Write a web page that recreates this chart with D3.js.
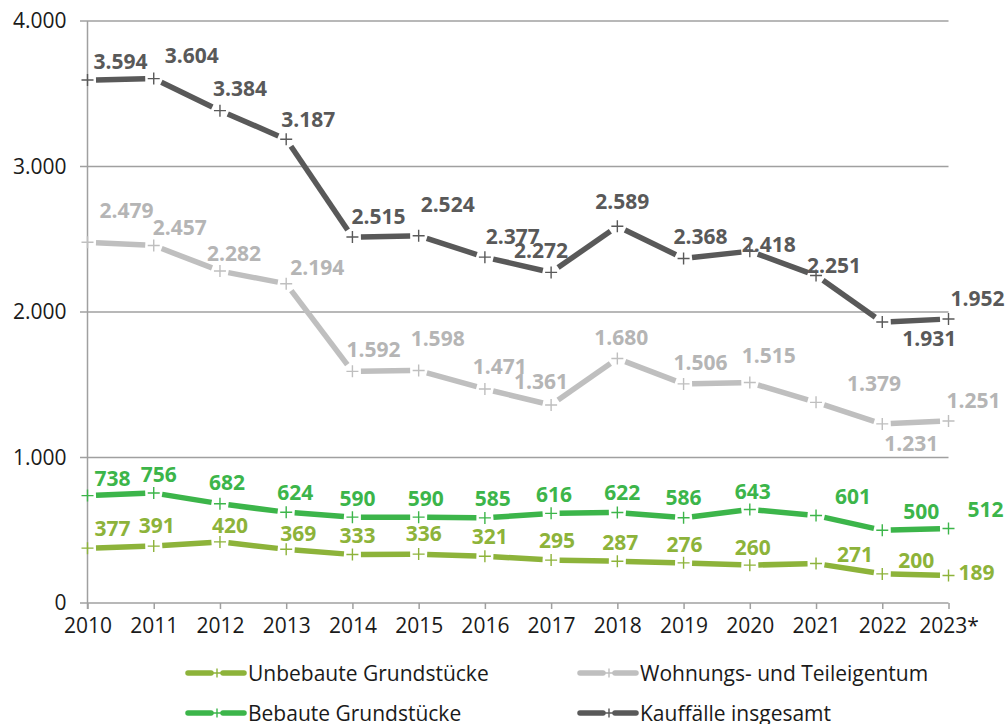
<!DOCTYPE html>
<html><head><meta charset="utf-8">
<script src="https://cdn.jsdelivr.net/npm/d3@7"></script>
<style>body{margin:0;background:#fff;} svg{display:block;}</style>
</head><body>
<svg id="c" width="1007" height="724"></svg>
<script>
const years = ["2010","2011","2012","2013","2014","2015","2016","2017","2018","2019","2020","2021","2022","2023*"];
const yTicks = [0, 1000, 2000, 3000, 4000];
const seriesNames = ["Unbebaute Grundstücke","Wohnungs- und Teileigentum","Bebaute Grundstücke","Kauffälle insgesamt"];
const unbebaute = [377,391,420,369,333,336,321,295,287,276,260,271,200,189];
const wohnungs  = [2479,2457,2282,2194,1592,1598,1471,1361,1680,1506,1515,1379,1231,1251];
const bebaute   = [738,756,682,624,590,590,585,616,622,586,643,601,500,512];
const gesamt    = [3594,3604,3384,3187,2515,2524,2377,2272,2589,2368,2418,2251,1931,1952];

// label offsets (layout only)
const offUnbebaute = [[25,-20],[3,-21],[10,-17],[12,-16],[5,-20],[5,-21],[5,-20],[6,-20],[3,-19],[1,-19],[3,-18],[39,-10],[34,-14],[28,-4]];
const offWohnungs  = [[39,-32],[26,-19],[14,-18],[31,-17],[21,-22],[19,-32],[15,-23],[-10,-24],[4,-22],[17,-22],[19,-28],[58,-19],[29,19],[25,-21]];
const offBebaute   = [[25,-18],[5,-19],[7,-22],[9,-20],[5,-19],[7,-19],[8,-20],[3,-19],[5,-20],[0,-21],[3,-18],[37,-20],[39,-19],[37,-20]];
const offGesamt    = [[33,-19],[38,-24],[20,-23],[22,-20],[26,-21],[29,-32],[28,-21],[-10,-22],[5,-25],[17,-22],[19,-7],[18,-10],[47,16],[29,-21]];

const fmt = v => d3.format(",")(v).replace(/,/g, ".");
const svg = d3.select("#c");
const FONT = "'Open Sans', sans-serif";

const x = d3.scalePoint().domain(years).range([87.5, 948.5]);
const y = d3.scaleLinear().domain([0, 4000]).range([603, 21]);

// gridlines
svg.append("g").selectAll("line").data(yTicks).join("line")
  .attr("x1", 80).attr("x2", 948.5)
  .attr("y1", d => y(d)).attr("y2", d => y(d))
  .attr("stroke", "#a0a0a0").attr("stroke-width", 1.5);

// y axis
const yAxis = d3.axisLeft(y).tickValues(yTicks).tickFormat(fmt).tickSize(0).tickPadding(21);
const gy = svg.append("g").attr("transform", "translate(87.5,0)").call(yAxis);
gy.select(".domain").remove();
gy.selectAll("text").attr("font-family", FONT).attr("font-size", 21).attr("fill", "#1a1a1a");
svg.append("line").attr("x1", 87.5).attr("x2", 87.5).attr("y1", y(4000)).attr("y2", 609)
  .attr("stroke", "#a0a0a0").attr("stroke-width", 1.5);

// x axis
const xAxis = d3.axisBottom(x).tickSize(6).tickPadding(9);
const gx = svg.append("g").attr("transform", "translate(0,603)").call(xAxis);
gx.select(".domain").remove();
gx.selectAll(".tick line").attr("stroke", "#a0a0a0").attr("stroke-width", 1.5);
gx.selectAll("text").attr("font-family", FONT).attr("font-size", 21).attr("fill", "#1a1a1a");

const series = [
  {name: seriesNames[0], values: unbebaute, off: offUnbebaute, line: "#8db33a", text: "#8db33a"},
  {name: seriesNames[1], values: wohnungs, off: offWohnungs, line: "#bfbfbf", text: "#b5b5b5"},
  {name: seriesNames[2], values: bebaute, off: offBebaute, line: "#3cb54a", text: "#3cb54a"},
  {name: seriesNames[3], values: gesamt, off: offGesamt, line: "#595959", text: "#595959"}
];

const GAP = 8.5;
function drawPlus(g, cx, cy, color, r) {
  g.append("path").attr("d", `M${cx-r},${cy}H${cx+r}M${cx},${cy-r}V${cy+r}`)
    .attr("stroke", color).attr("stroke-width", 1.4).attr("fill", "none");
}

series.forEach(s => {
  const g = svg.append("g");
  const pts = s.values.map((v, i) => [x(years[i]), y(v)]);
  const segs = d3.pairs(pts).map(([a, b]) => {
    const dx = b[0] - a[0], dy = b[1] - a[1], L = Math.hypot(dx, dy);
    const ux = dx / L, uy = dy / L;
    return [[a[0] + ux * GAP, a[1] + uy * GAP], [b[0] - ux * GAP, b[1] - uy * GAP]];
  });
  g.selectAll("line.seg").data(segs).join("line").attr("class", "seg")
    .attr("x1", d => d[0][0]).attr("y1", d => d[0][1])
    .attr("x2", d => d[1][0]).attr("y2", d => d[1][1])
    .attr("stroke", s.line).attr("stroke-width", 5.5);
  pts.forEach(p => drawPlus(g, p[0], p[1], s.line, 6));
  g.selectAll("text").data(s.values).join("text")
    .attr("x", (d, i) => x(years[i]) + s.off[i][0])
    .attr("y", (d, i) => y(d) + s.off[i][1])
    .attr("text-anchor", "middle").attr("dominant-baseline", "central")
    .attr("font-family", FONT).attr("font-weight", "bold").attr("font-size", 21)
    .attr("fill", s.text).text(d => fmt(d));
});

// legend
const legendPos = [[188, 673], [580, 673], [188, 713], [580, 713]];
series.forEach((s, i) => {
  const [lx, ly] = legendPos[i];
  const g = svg.append("g");
  g.append("line").attr("x1", lx).attr("x2", lx + 23).attr("y1", ly).attr("y2", ly)
    .attr("stroke", s.line).attr("stroke-width", 5.5).attr("stroke-linecap", "round");
  g.append("line").attr("x1", lx + 35).attr("x2", lx + 56).attr("y1", ly).attr("y2", ly)
    .attr("stroke", s.line).attr("stroke-width", 5.5).attr("stroke-linecap", "round");
  drawPlus(g, lx + 29, ly, s.line, 4.5);
  g.append("text").attr("x", lx + 60).attr("y", ly).attr("dominant-baseline", "central")
    .attr("font-family", FONT).attr("font-size", 21).attr("fill", "#1a1a1a").text(s.name);
});
</script>
</body></html>
